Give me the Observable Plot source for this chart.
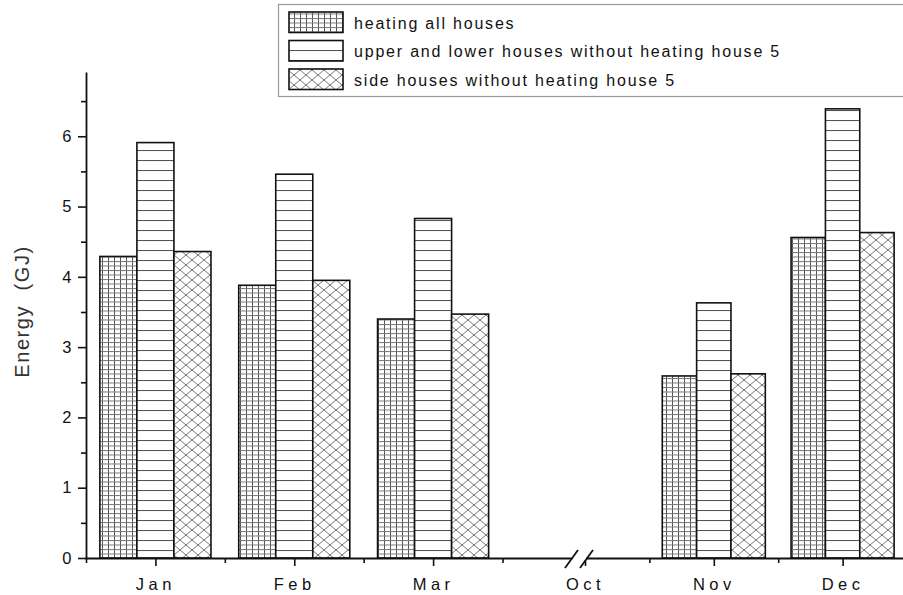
<!DOCTYPE html>
<html><head><meta charset="utf-8">
<script src="https://cdn.jsdelivr.net/npm/d3@7"></script>
<script src="https://cdn.jsdelivr.net/npm/@observablehq/plot@0.6"></script>
<style>
body{margin:0;background:#fff;}
#chart svg{display:block;overflow:hidden;}
#chart g[aria-label="x-axis tick label"] text{letter-spacing:4.5px;font-size:16.5px;}
#chart g[aria-label="y-axis tick label"] text{font-size:16.5px;}
</style></head><body><div id="chart"></div>
<script>
// ---- data ----
const months = ["Jan","Feb","Mar","Oct","Nov","Dec"];
const monthIndex = [1,2,3,4,5,6];
const seriesNames = [
  "heating all houses",
  "upper and lower houses without heating house 5",
  "side houses without heating house 5"
];
const heatingAll = [4.29, 3.88, 3.40, null, 2.59, 4.56];
const upperLower = [5.91, 5.46, 4.83, null, 3.63, 6.39];
const sideHouses = [4.36, 3.95, 3.47, null, 2.62, 4.63];
const yTicks = [0,1,2,3,4,5,6];
const yMinorTicks = [0.5,1.5,2.5,3.5,4.5,5.5,6.5];
const xMinorTicks = [0.5,1.5,2.5,3.5,4.5,5.5];
const yLabel = "Energy  (GJ)";

// ---- layout ----
const W = 903, H = 595;
const xDomain = [0.5, 3.95, 4.0, 6.5];   // broken axis (piecewise)
const xRange = [86, 565, 585, 907];
const groupWidth = 0.8;

const seriesValues = [heatingAll, upperLower, sideHouses];
const rowsBySeries = seriesValues.map((vals, k) => {
  const out = [];
  vals.forEach((v, i) => {
    if (v == null) return;
    const x1 = monthIndex[i] - groupWidth / 2 + k * groupWidth / 3;
    out.push({series: seriesNames[k], month: months[i], x1, x2: x1 + groupWidth / 3, value: v});
  });
  return out;
});

const font = "'Liberation Sans', Arial, Helvetica, sans-serif";

const plot = Plot.plot({
  width: W, height: H,
  marginLeft: 86, marginRight: 0, marginTop: 73, marginBottom: 37,
  style: {fontFamily: font, fontSize: "16px", color: "#111", background: "#fff"},
  x: {type: "linear", domain: xDomain, range: xRange, axis: null},
  y: {domain: [0, 6.9], axis: null},
  marks: [
    ...rowsBySeries.map((rows, k) =>
      Plot.rectY(rows, {x1: "x1", x2: "x2", y1: 0, y2: "value",
        fill: `url(#pat${k})`, stroke: "#111", strokeWidth: 1.6})
    ),
    Plot.frame({anchor: "left", stroke: "#111", strokeWidth: 1.8}),
    Plot.frame({anchor: "bottom", stroke: "#111", strokeWidth: 1.8}),
    Plot.axisY(yTicks, {tickSize: 8, tickPadding: 7, tickFormat: d => String(d),
      strokeWidth: 1.6, stroke: "#111", fill: "#111", label: null}),
    Plot.axisY(yMinorTicks, {tickSize: 5, tickFormat: () => "", strokeWidth: 1.6,
      stroke: "#111", label: null}),
    Plot.axisX(monthIndex, {tickSize: 8, tickPadding: 12, tickFormat: d => months[monthIndex.indexOf(d)],
      strokeWidth: 1.6, stroke: "#111", fill: "#111", label: null}),
    Plot.axisX(xMinorTicks, {tickSize: 5, tickFormat: () => "", strokeWidth: 1.6,
      stroke: "#111", label: null})
  ]
});
document.getElementById("chart").appendChild(plot);

// ---- patterns ----
const svg = d3.select(plot);
const defs = svg.insert("defs", ":first-child");
// grid
const p0 = defs.append("pattern").attr("id", "pat0").attr("patternUnits", "userSpaceOnUse")
  .attr("width", 6).attr("height", 4.5);
p0.append("rect").attr("width", 6).attr("height", 4.5).attr("fill", "#fff");
p0.append("line").attr("x1", 0.5).attr("x2", 0.5).attr("y1", 0).attr("y2", 4.5).attr("stroke", "#555").attr("stroke-width", 1);
p0.append("line").attr("x1", 0).attr("x2", 6).attr("y1", 0.5).attr("y2", 0.5).attr("stroke", "#777").attr("stroke-width", 1);
// horizontal lines
const p1 = defs.append("pattern").attr("id", "pat1").attr("patternUnits", "userSpaceOnUse")
  .attr("width", 10).attr("height", 10);
p1.append("rect").attr("width", 10).attr("height", 10).attr("fill", "#fff");
p1.append("line").attr("x1", 0).attr("x2", 10).attr("y1", 0.5).attr("y2", 0.5).attr("stroke", "#555").attr("stroke-width", 1.1);
// cross hatch
const p2 = defs.append("pattern").attr("id", "pat2").attr("patternUnits", "userSpaceOnUse")
  .attr("width", 12).attr("height", 10);
p2.append("rect").attr("width", 12).attr("height", 10).attr("fill", "#fff");
p2.append("path").attr("d", "M-1,-0.833L13,10.833M-1,10.833L13,-0.833").attr("stroke", "#777").attr("stroke-width", 1).attr("fill", "none");

// ---- y-axis title ----
const yTop = 73, yBottom = H - 37;
svg.append("text").attr("transform", `translate(22,${(yTop + yBottom) / 2 - 4}) rotate(-90)`)
  .attr("text-anchor", "middle").attr("dominant-baseline", "central")
  .attr("font-family", font).attr("font-size", 20).attr("letter-spacing", "1.6px")
  .attr("fill", "#333").text(yLabel);

// ---- axis break marks ----
const xs = d3.scaleLinear().domain(xDomain).range(xRange);
const yAxisPix = yBottom;
const mid = (xs(3.95) + xs(4.0)) / 2;
svg.append("rect").attr("x", mid - 2.5).attr("y", yAxisPix - 2).attr("width", 13.5).attr("height", 4).attr("fill", "#fff");
[[mid - 10, mid + 3], [mid + 5, mid + 18]].forEach(([a, b]) => {
  svg.append("line").attr("x1", a).attr("y1", yAxisPix + 10).attr("x2", b).attr("y2", yAxisPix - 8)
    .attr("stroke", "#111").attr("stroke-width", 1.8);
});

// ---- legend ----
const lg = svg.append("g").attr("font-family", font).attr("font-size", 16).attr("text-anchor", "start");
lg.append("rect").attr("x", 278.5).attr("y", 4.5).attr("width", 640).attr("height", 92)
  .attr("fill", "#fff").attr("stroke", "#999").attr("stroke-width", 1.2);
seriesNames.forEach((name, k) => {
  const top = 12 + k * 28.5;
  lg.append("rect").attr("x", 289).attr("y", top).attr("width", 54).attr("height", 20.5)
    .attr("fill", `url(#pat${k})`).attr("stroke", "#111").attr("stroke-width", 1.6);
  lg.append("text").attr("x", 354).attr("y", top + 16.5).attr("fill", "#111")
    .attr("text-anchor", "start").attr("letter-spacing", "1.8px").text(name);
});
</script></body></html>
